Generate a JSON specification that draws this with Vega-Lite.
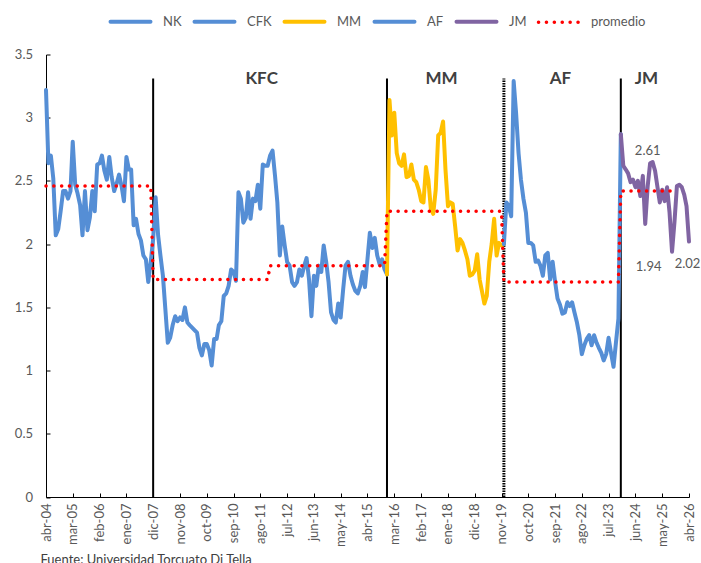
{
  "$schema": "https://vega.github.io/schema/vega-lite/v6.json",
  "width": 643,
  "height": 442.5,
  "autosize": {"type": "none"},
  "padding": {"left": 46, "top": 54.5, "right": 12, "bottom": 66},
  "background": "white",
  "config": {"view": {"stroke": null}, "font": "Lato"},
  "datasets": {
    "series": [
      {"fecha":"2004-04","serie":"NK","valor":3.22},{"fecha":"2004-05","serie":"NK","valor":2.64},{"fecha":"2004-06","serie":"NK","valor":2.70},{"fecha":"2004-07","serie":"NK","valor":2.52},{"fecha":"2004-08","serie":"NK","valor":2.07},{"fecha":"2004-09","serie":"NK","valor":2.12},{"fecha":"2004-10","serie":"NK","valor":2.26},{"fecha":"2004-11","serie":"NK","valor":2.42},{"fecha":"2004-12","serie":"NK","valor":2.42},
      {"fecha":"2005-01","serie":"NK","valor":2.36},{"fecha":"2005-02","serie":"NK","valor":2.42},{"fecha":"2005-03","serie":"NK","valor":2.81},{"fecha":"2005-04","serie":"NK","valor":2.47},{"fecha":"2005-05","serie":"NK","valor":2.40},{"fecha":"2005-06","serie":"NK","valor":2.31},{"fecha":"2005-07","serie":"NK","valor":2.07},{"fecha":"2005-08","serie":"NK","valor":2.42},{"fecha":"2005-09","serie":"NK","valor":2.11},{"fecha":"2005-10","serie":"NK","valor":2.21},{"fecha":"2005-11","serie":"NK","valor":2.42},{"fecha":"2005-12","serie":"NK","valor":2.26},
      {"fecha":"2006-01","serie":"NK","valor":2.63},{"fecha":"2006-02","serie":"NK","valor":2.64},{"fecha":"2006-03","serie":"NK","valor":2.70},{"fecha":"2006-04","serie":"NK","valor":2.58},{"fecha":"2006-05","serie":"NK","valor":2.51},{"fecha":"2006-06","serie":"NK","valor":2.69},{"fecha":"2006-07","serie":"NK","valor":2.53},{"fecha":"2006-08","serie":"NK","valor":2.42},{"fecha":"2006-09","serie":"NK","valor":2.48},{"fecha":"2006-10","serie":"NK","valor":2.55},{"fecha":"2006-11","serie":"NK","valor":2.46},{"fecha":"2006-12","serie":"NK","valor":2.34},
      {"fecha":"2007-01","serie":"NK","valor":2.69},{"fecha":"2007-02","serie":"NK","valor":2.59},{"fecha":"2007-03","serie":"NK","valor":2.59},{"fecha":"2007-04","serie":"NK","valor":2.15},{"fecha":"2007-05","serie":"NK","valor":2.20},{"fecha":"2007-06","serie":"NK","valor":2.08},{"fecha":"2007-07","serie":"NK","valor":2.03},{"fecha":"2007-08","serie":"NK","valor":1.91},{"fecha":"2007-09","serie":"NK","valor":1.88},{"fecha":"2007-10","serie":"NK","valor":1.70},{"fecha":"2007-11","serie":"NK","valor":1.86},{"fecha":"2007-12","serie":"NK","valor":2.04},
      {"fecha":"2007-12","serie":"CFK","valor":2.04},
      {"fecha":"2008-01","serie":"CFK","valor":2.37},{"fecha":"2008-02","serie":"CFK","valor":2.07},{"fecha":"2008-03","serie":"CFK","valor":1.91},{"fecha":"2008-04","serie":"CFK","valor":1.75},{"fecha":"2008-05","serie":"CFK","valor":1.49},{"fecha":"2008-06","serie":"CFK","valor":1.22},{"fecha":"2008-07","serie":"CFK","valor":1.26},{"fecha":"2008-08","serie":"CFK","valor":1.36},{"fecha":"2008-09","serie":"CFK","valor":1.43},{"fecha":"2008-10","serie":"CFK","valor":1.39},{"fecha":"2008-11","serie":"CFK","valor":1.42},{"fecha":"2008-12","serie":"CFK","valor":1.40},
      {"fecha":"2009-01","serie":"CFK","valor":1.50},{"fecha":"2009-02","serie":"CFK","valor":1.38},{"fecha":"2009-03","serie":"CFK","valor":1.36},{"fecha":"2009-04","serie":"CFK","valor":1.34},{"fecha":"2009-05","serie":"CFK","valor":1.32},{"fecha":"2009-06","serie":"CFK","valor":1.30},{"fecha":"2009-07","serie":"CFK","valor":1.18},{"fecha":"2009-08","serie":"CFK","valor":1.12},{"fecha":"2009-09","serie":"CFK","valor":1.21},{"fecha":"2009-10","serie":"CFK","valor":1.21},{"fecha":"2009-11","serie":"CFK","valor":1.16},{"fecha":"2009-12","serie":"CFK","valor":1.04},
      {"fecha":"2010-01","serie":"CFK","valor":1.25},{"fecha":"2010-02","serie":"CFK","valor":1.25},{"fecha":"2010-03","serie":"CFK","valor":1.36},{"fecha":"2010-04","serie":"CFK","valor":1.39},{"fecha":"2010-05","serie":"CFK","valor":1.59},{"fecha":"2010-06","serie":"CFK","valor":1.61},{"fecha":"2010-07","serie":"CFK","valor":1.67},{"fecha":"2010-08","serie":"CFK","valor":1.80},{"fecha":"2010-09","serie":"CFK","valor":1.78},{"fecha":"2010-10","serie":"CFK","valor":1.71},{"fecha":"2010-11","serie":"CFK","valor":2.41},{"fecha":"2010-12","serie":"CFK","valor":2.36},
      {"fecha":"2011-01","serie":"CFK","valor":2.17},{"fecha":"2011-02","serie":"CFK","valor":2.21},{"fecha":"2011-03","serie":"CFK","valor":2.41},{"fecha":"2011-04","serie":"CFK","valor":2.20},{"fecha":"2011-05","serie":"CFK","valor":2.36},{"fecha":"2011-06","serie":"CFK","valor":2.34},{"fecha":"2011-07","serie":"CFK","valor":2.47},{"fecha":"2011-08","serie":"CFK","valor":2.28},{"fecha":"2011-09","serie":"CFK","valor":2.63},{"fecha":"2011-10","serie":"CFK","valor":2.62},{"fecha":"2011-11","serie":"CFK","valor":2.62},{"fecha":"2011-12","serie":"CFK","valor":2.70},
      {"fecha":"2012-01","serie":"CFK","valor":2.74},{"fecha":"2012-02","serie":"CFK","valor":2.54},{"fecha":"2012-03","serie":"CFK","valor":2.33},{"fecha":"2012-04","serie":"CFK","valor":1.91},{"fecha":"2012-05","serie":"CFK","valor":2.14},{"fecha":"2012-06","serie":"CFK","valor":1.99},{"fecha":"2012-07","serie":"CFK","valor":1.86},{"fecha":"2012-08","serie":"CFK","valor":1.83},{"fecha":"2012-09","serie":"CFK","valor":1.70},{"fecha":"2012-10","serie":"CFK","valor":1.67},{"fecha":"2012-11","serie":"CFK","valor":1.70},{"fecha":"2012-12","serie":"CFK","valor":1.80},
      {"fecha":"2013-01","serie":"CFK","valor":1.75},{"fecha":"2013-02","serie":"CFK","valor":1.83},{"fecha":"2013-03","serie":"CFK","valor":1.89},{"fecha":"2013-04","serie":"CFK","valor":1.72},{"fecha":"2013-05","serie":"CFK","valor":1.43},{"fecha":"2013-06","serie":"CFK","valor":1.75},{"fecha":"2013-07","serie":"CFK","valor":1.67},{"fecha":"2013-08","serie":"CFK","valor":1.83},{"fecha":"2013-09","serie":"CFK","valor":1.78},{"fecha":"2013-10","serie":"CFK","valor":1.99},{"fecha":"2013-11","serie":"CFK","valor":1.86},{"fecha":"2013-12","serie":"CFK","valor":1.70},
      {"fecha":"2014-01","serie":"CFK","valor":1.46},{"fecha":"2014-02","serie":"CFK","valor":1.40},{"fecha":"2014-03","serie":"CFK","valor":1.38},{"fecha":"2014-04","serie":"CFK","valor":1.53},{"fecha":"2014-05","serie":"CFK","valor":1.42},{"fecha":"2014-06","serie":"CFK","valor":1.64},{"fecha":"2014-07","serie":"CFK","valor":1.83},{"fecha":"2014-08","serie":"CFK","valor":1.86},{"fecha":"2014-09","serie":"CFK","valor":1.75},{"fecha":"2014-10","serie":"CFK","valor":1.68},{"fecha":"2014-11","serie":"CFK","valor":1.63},{"fecha":"2014-12","serie":"CFK","valor":1.61},
      {"fecha":"2015-01","serie":"CFK","valor":1.67},{"fecha":"2015-02","serie":"CFK","valor":1.78},{"fecha":"2015-03","serie":"CFK","valor":1.66},{"fecha":"2015-04","serie":"CFK","valor":1.88},{"fecha":"2015-05","serie":"CFK","valor":2.09},{"fecha":"2015-06","serie":"CFK","valor":1.97},{"fecha":"2015-07","serie":"CFK","valor":2.05},{"fecha":"2015-08","serie":"CFK","valor":1.91},{"fecha":"2015-09","serie":"CFK","valor":1.84},{"fecha":"2015-10","serie":"CFK","valor":1.88},{"fecha":"2015-11","serie":"CFK","valor":1.80},{"fecha":"2015-12","serie":"CFK","valor":1.76},
      {"fecha":"2015-12","serie":"MM","valor":1.76},
      {"fecha":"2016-01","serie":"MM","valor":3.14},{"fecha":"2016-02","serie":"MM","valor":2.86},{"fecha":"2016-03","serie":"MM","valor":3.04},{"fecha":"2016-04","serie":"MM","valor":2.72},{"fecha":"2016-05","serie":"MM","valor":2.64},{"fecha":"2016-06","serie":"MM","valor":2.62},{"fecha":"2016-07","serie":"MM","valor":2.71},{"fecha":"2016-08","serie":"MM","valor":2.53},{"fecha":"2016-09","serie":"MM","valor":2.54},{"fecha":"2016-10","serie":"MM","valor":2.63},{"fecha":"2016-11","serie":"MM","valor":2.51},{"fecha":"2016-12","serie":"MM","valor":2.49},
      {"fecha":"2017-01","serie":"MM","valor":2.43},{"fecha":"2017-02","serie":"MM","valor":2.34},{"fecha":"2017-03","serie":"MM","valor":2.33},{"fecha":"2017-04","serie":"MM","valor":2.61},{"fecha":"2017-05","serie":"MM","valor":2.51},{"fecha":"2017-06","serie":"MM","valor":2.28},{"fecha":"2017-07","serie":"MM","valor":2.24},{"fecha":"2017-08","serie":"MM","valor":2.43},{"fecha":"2017-09","serie":"MM","valor":2.86},{"fecha":"2017-10","serie":"MM","valor":2.88},{"fecha":"2017-11","serie":"MM","valor":2.97},{"fecha":"2017-12","serie":"MM","valor":2.59},
      {"fecha":"2018-01","serie":"MM","valor":2.30},{"fecha":"2018-02","serie":"MM","valor":2.33},{"fecha":"2018-03","serie":"MM","valor":2.32},{"fecha":"2018-04","serie":"MM","valor":2.14},{"fecha":"2018-05","serie":"MM","valor":1.95},{"fecha":"2018-06","serie":"MM","valor":2.04},{"fecha":"2018-07","serie":"MM","valor":2.01},{"fecha":"2018-08","serie":"MM","valor":1.95},{"fecha":"2018-09","serie":"MM","valor":1.88},{"fecha":"2018-10","serie":"MM","valor":1.75},{"fecha":"2018-11","serie":"MM","valor":1.76},{"fecha":"2018-12","serie":"MM","valor":1.79},
      {"fecha":"2019-01","serie":"MM","valor":1.92},{"fecha":"2019-02","serie":"MM","valor":1.72},{"fecha":"2019-03","serie":"MM","valor":1.63},{"fecha":"2019-04","serie":"MM","valor":1.53},{"fecha":"2019-05","serie":"MM","valor":1.59},{"fecha":"2019-06","serie":"MM","valor":1.86},{"fecha":"2019-07","serie":"MM","valor":2.00},{"fecha":"2019-08","serie":"MM","valor":2.20},{"fecha":"2019-09","serie":"MM","valor":1.91},{"fecha":"2019-10","serie":"MM","valor":2.01},{"fecha":"2019-11","serie":"MM","valor":1.99},{"fecha":"2019-12","serie":"MM","valor":2.00},
      {"fecha":"2019-12","serie":"AF","valor":2.00},
      {"fecha":"2020-01","serie":"AF","valor":2.33},{"fecha":"2020-02","serie":"AF","valor":2.30},{"fecha":"2020-03","serie":"AF","valor":2.22},{"fecha":"2020-04","serie":"AF","valor":3.29},{"fecha":"2020-05","serie":"AF","valor":3.04},{"fecha":"2020-06","serie":"AF","valor":2.72},{"fecha":"2020-07","serie":"AF","valor":2.51},{"fecha":"2020-08","serie":"AF","valor":2.36},{"fecha":"2020-09","serie":"AF","valor":2.25},{"fecha":"2020-10","serie":"AF","valor":2.01},{"fecha":"2020-11","serie":"AF","valor":2.01},{"fecha":"2020-12","serie":"AF","valor":1.99},
      {"fecha":"2021-01","serie":"AF","valor":1.86},{"fecha":"2021-02","serie":"AF","valor":1.87},{"fecha":"2021-03","serie":"AF","valor":1.83},{"fecha":"2021-04","serie":"AF","valor":1.75},{"fecha":"2021-05","serie":"AF","valor":1.91},{"fecha":"2021-06","serie":"AF","valor":1.93},{"fecha":"2021-07","serie":"AF","valor":1.72},{"fecha":"2021-08","serie":"AF","valor":1.86},{"fecha":"2021-09","serie":"AF","valor":1.70},{"fecha":"2021-10","serie":"AF","valor":1.57},{"fecha":"2021-11","serie":"AF","valor":1.52},{"fecha":"2021-12","serie":"AF","valor":1.45},
      {"fecha":"2022-01","serie":"AF","valor":1.46},{"fecha":"2022-02","serie":"AF","valor":1.54},{"fecha":"2022-03","serie":"AF","valor":1.51},{"fecha":"2022-04","serie":"AF","valor":1.54},{"fecha":"2022-05","serie":"AF","valor":1.46},{"fecha":"2022-06","serie":"AF","valor":1.38},{"fecha":"2022-07","serie":"AF","valor":1.28},{"fecha":"2022-08","serie":"AF","valor":1.13},{"fecha":"2022-09","serie":"AF","valor":1.20},{"fecha":"2022-10","serie":"AF","valor":1.25},{"fecha":"2022-11","serie":"AF","valor":1.28},{"fecha":"2022-12","serie":"AF","valor":1.20},
      {"fecha":"2023-01","serie":"AF","valor":1.28},{"fecha":"2023-02","serie":"AF","valor":1.22},{"fecha":"2023-03","serie":"AF","valor":1.18},{"fecha":"2023-04","serie":"AF","valor":1.14},{"fecha":"2023-05","serie":"AF","valor":1.08},{"fecha":"2023-06","serie":"AF","valor":1.13},{"fecha":"2023-07","serie":"AF","valor":1.26},{"fecha":"2023-08","serie":"AF","valor":1.14},{"fecha":"2023-09","serie":"AF","valor":1.03},{"fecha":"2023-10","serie":"AF","valor":1.22},{"fecha":"2023-11","serie":"AF","valor":1.41},{"fecha":"2023-12","serie":"AF","valor":2.87},
      {"fecha":"2023-12","serie":"JM","valor":2.87},
      {"fecha":"2024-01","serie":"JM","valor":2.62},{"fecha":"2024-02","serie":"JM","valor":2.59},{"fecha":"2024-03","serie":"JM","valor":2.56},{"fecha":"2024-04","serie":"JM","valor":2.49},{"fecha":"2024-05","serie":"JM","valor":2.51},{"fecha":"2024-06","serie":"JM","valor":2.45},{"fecha":"2024-07","serie":"JM","valor":2.50},{"fecha":"2024-08","serie":"JM","valor":2.38},{"fecha":"2024-09","serie":"JM","valor":2.54},{"fecha":"2024-10","serie":"JM","valor":2.16},{"fecha":"2024-11","serie":"JM","valor":2.46},{"fecha":"2024-12","serie":"JM","valor":2.64},
      {"fecha":"2025-01","serie":"JM","valor":2.65},{"fecha":"2025-02","serie":"JM","valor":2.58},{"fecha":"2025-03","serie":"JM","valor":2.46},{"fecha":"2025-04","serie":"JM","valor":2.33},{"fecha":"2025-05","serie":"JM","valor":2.43},{"fecha":"2025-06","serie":"JM","valor":2.34},{"fecha":"2025-07","serie":"JM","valor":2.45},{"fecha":"2025-08","serie":"JM","valor":2.25},{"fecha":"2025-09","serie":"JM","valor":1.94},{"fecha":"2025-10","serie":"JM","valor":2.17},{"fecha":"2025-11","serie":"JM","valor":2.46},{"fecha":"2025-12","serie":"JM","valor":2.47},
      {"fecha":"2026-01","serie":"JM","valor":2.45},{"fecha":"2026-02","serie":"JM","valor":2.39},{"fecha":"2026-03","serie":"JM","valor":2.30},{"fecha":"2026-04","serie":"JM","valor":2.02}
    ],
    "promedio": [
      {"fecha":"2004-04","serie":"promedio","valor":2.46},{"fecha":"2007-11","serie":"promedio","valor":2.46},
      {"fecha":"2007-12","serie":"promedio","valor":1.72},{"fecha":"2011-11","serie":"promedio","valor":1.72},
      {"fecha":"2011-12","serie":"promedio","valor":1.83},{"fecha":"2015-11","serie":"promedio","valor":1.83},
      {"fecha":"2015-12","serie":"promedio","valor":2.26},{"fecha":"2019-11","serie":"promedio","valor":2.26},
      {"fecha":"2019-12","serie":"promedio","valor":1.70},{"fecha":"2023-11","serie":"promedio","valor":1.70},
      {"fecha":"2023-12","serie":"promedio","valor":2.42},{"fecha":"2025-11","serie":"promedio","valor":2.42}
    ],
    "cambios": [
      {"fecha":"2007-12","gobierno":"KFC","centro":"2011-08-18"},
      {"fecha":"2015-12","gobierno":"MM","centro":"2017-10-12"},
      {"fecha":"2019-12","gobierno":"AF","centro":"2021-11-06"},
      {"fecha":"2023-12","gobierno":"JM","centro":"2024-10-16"}
    ],
    "etiquetas": [
      {"fecha":"2024-11-01","posicion":2.74,"texto":"2.61"},
      {"fecha":"2024-11-13","posicion":1.82,"texto":"1.94"},
      {"fecha":"2026-03-13","posicion":1.84,"texto":"2.02"}
    ]
  },
  "encoding": {
    "x": {
      "field": "fecha",
      "type": "temporal",
      "scale": {
        "type": "utc",
        "nice": false,
        "domain": [{"year":2004,"month":4,"date":1,"utc":true},{"year":2026,"month":4,"date":1,"utc":true}]
      },
      "axis": {
        "values": [
          {"year":2004,"month":4,"date":1,"utc":true},{"year":2005,"month":3,"date":1,"utc":true},{"year":2006,"month":2,"date":1,"utc":true},{"year":2007,"month":1,"date":1,"utc":true},{"year":2007,"month":12,"date":1,"utc":true},
          {"year":2008,"month":11,"date":1,"utc":true},{"year":2009,"month":10,"date":1,"utc":true},{"year":2010,"month":9,"date":1,"utc":true},{"year":2011,"month":8,"date":1,"utc":true},{"year":2012,"month":7,"date":1,"utc":true},
          {"year":2013,"month":6,"date":1,"utc":true},{"year":2014,"month":5,"date":1,"utc":true},{"year":2015,"month":4,"date":1,"utc":true},{"year":2016,"month":3,"date":1,"utc":true},{"year":2017,"month":2,"date":1,"utc":true},
          {"year":2018,"month":1,"date":1,"utc":true},{"year":2018,"month":12,"date":1,"utc":true},{"year":2019,"month":11,"date":1,"utc":true},{"year":2020,"month":10,"date":1,"utc":true},{"year":2021,"month":9,"date":1,"utc":true},
          {"year":2022,"month":8,"date":1,"utc":true},{"year":2023,"month":7,"date":1,"utc":true},{"year":2024,"month":6,"date":1,"utc":true},{"year":2025,"month":5,"date":1,"utc":true},{"year":2026,"month":4,"date":1,"utc":true}
        ],
        "labelExpr": "['ene','feb','mar','abr','may','jun','jul','ago','sep','oct','nov','dic'][utcmonth(datum.value)] + '-' + utcFormat(datum.value, '%y')",
        "labelAngle": -90,
        "labelFont": "Lato",
        "labelFontSize": 13,
        "labelColor": "#595959",
        "labelFlush": false,
        "labelOverlap": false,
        "labelPadding": 10,
        "domainColor": "#000000",
        "domainWidth": 1,
        "tickColor": "#000000",
        "tickSize": -4,
        "grid": false,
        "title": "Fuente: Universidad Torcuato Di Tella",
        "titleX": -6,
        "titleY": 66,
        "titleAlign": "left",
        "titleAnchor": "start",
        "titleBaseline": "alphabetic",
        "titleFont": "Lato",
        "titleFontSize": 13,
        "titleFontWeight": "normal",
        "titleColor": "#404040"
      }
    }
  },
  "layer": [
    {
      "data": {"name": "cambios"},
      "mark": {"type": "rule", "color": "#000000"},
      "encoding": {
        "y": {"datum": 0, "type": "quantitative", "scale": {"domain": [0, 3.5], "nice": false}, "axis": {
          "values": [0, 0.5, 1, 1.5, 2, 2.5, 3, 3.5],
          "format": "~g",
          "labelFont": "Lato",
          "labelFontSize": 13,
          "labelColor": "#595959",
          "labelPadding": 17.5,
          "domainColor": "#000000",
          "tickColor": "#000000",
          "tickSize": -4,
          "grid": false,
          "title": null
        }},
        "y2": {"datum": 3.31},
        "strokeWidth": {"condition": {"test": "utcyear(datum.fecha) === 2019", "value": 3}, "value": 2},
        "strokeDash": {"condition": {"test": "utcyear(datum.fecha) === 2019", "value": [1.5, 1]}, "value": [1, 0]}
      }
    },
    {
      "data": {"name": "series"},
      "mark": {"type": "line", "strokeWidth": 4, "strokeCap": "round", "strokeJoin": "round"},
      "encoding": {
        "y": {"field": "valor", "type": "quantitative", "scale": {"domain": [0, 3.5], "nice": false}},
        "color": {
          "field": "serie",
          "type": "nominal",
          "scale": {
            "domain": ["NK", "CFK", "MM", "AF", "JM", "promedio"],
            "range": ["#558ED5", "#558ED5", "#FFC000", "#558ED5", "#8064A2", "#FF0000"]
          },
          "legend": {
            "orient": "none",
            "legendX": 78,
            "legendY": -39.5,
            "direction": "horizontal",
            "title": null,
            "symbolType": "stroke",
            "symbolSize": 1600,
            "symbolStrokeWidth": 4,
            "labelFont": "Lato",
            "labelFontSize": 13,
            "labelColor": "#595959",
            "labelOffset": 26,
            "columnPadding": 4,
            "encode": {
              "symbols": {
                "update": {
                  "strokeCap": {"value": "round"},
                  "strokeDash": {"signal": "datum.value === 'promedio' ? [0.1, 7.8] : [1, 0]"},
                  "strokeWidth": {"signal": "datum.value === 'promedio' ? 3.5 : 4"}
                }
              }
            }
          }
        }
      }
    },
    {
      "data": {"name": "promedio"},
      "mark": {"type": "line", "strokeWidth": 3.5, "strokeCap": "round", "strokeDash": [0.1, 7.7]},
      "encoding": {
        "y": {"field": "valor", "type": "quantitative", "scale": {"domain": [0, 3.5], "nice": false}},
        "color": {"field": "serie", "type": "nominal"}
      }
    },
    {
      "data": {"name": "cambios"},
      "mark": {"type": "text", "font": "Lato", "fontSize": 17, "fontWeight": "bold", "color": "#404040", "baseline": "middle", "align": "center"},
      "encoding": {
        "x": {"field": "centro", "type": "temporal"},
        "y": {"datum": 3.31, "type": "quantitative", "scale": {"domain": [0, 3.5], "nice": false}},
        "text": {"field": "gobierno"}
      }
    },
    {
      "data": {"name": "etiquetas"},
      "mark": {"type": "text", "font": "Lato", "fontSize": 13, "color": "#595959", "baseline": "middle", "align": "center"},
      "encoding": {
        "y": {"field": "posicion", "type": "quantitative", "scale": {"domain": [0, 3.5], "nice": false}},
        "text": {"field": "texto"}
      }
    }
  ]
}
